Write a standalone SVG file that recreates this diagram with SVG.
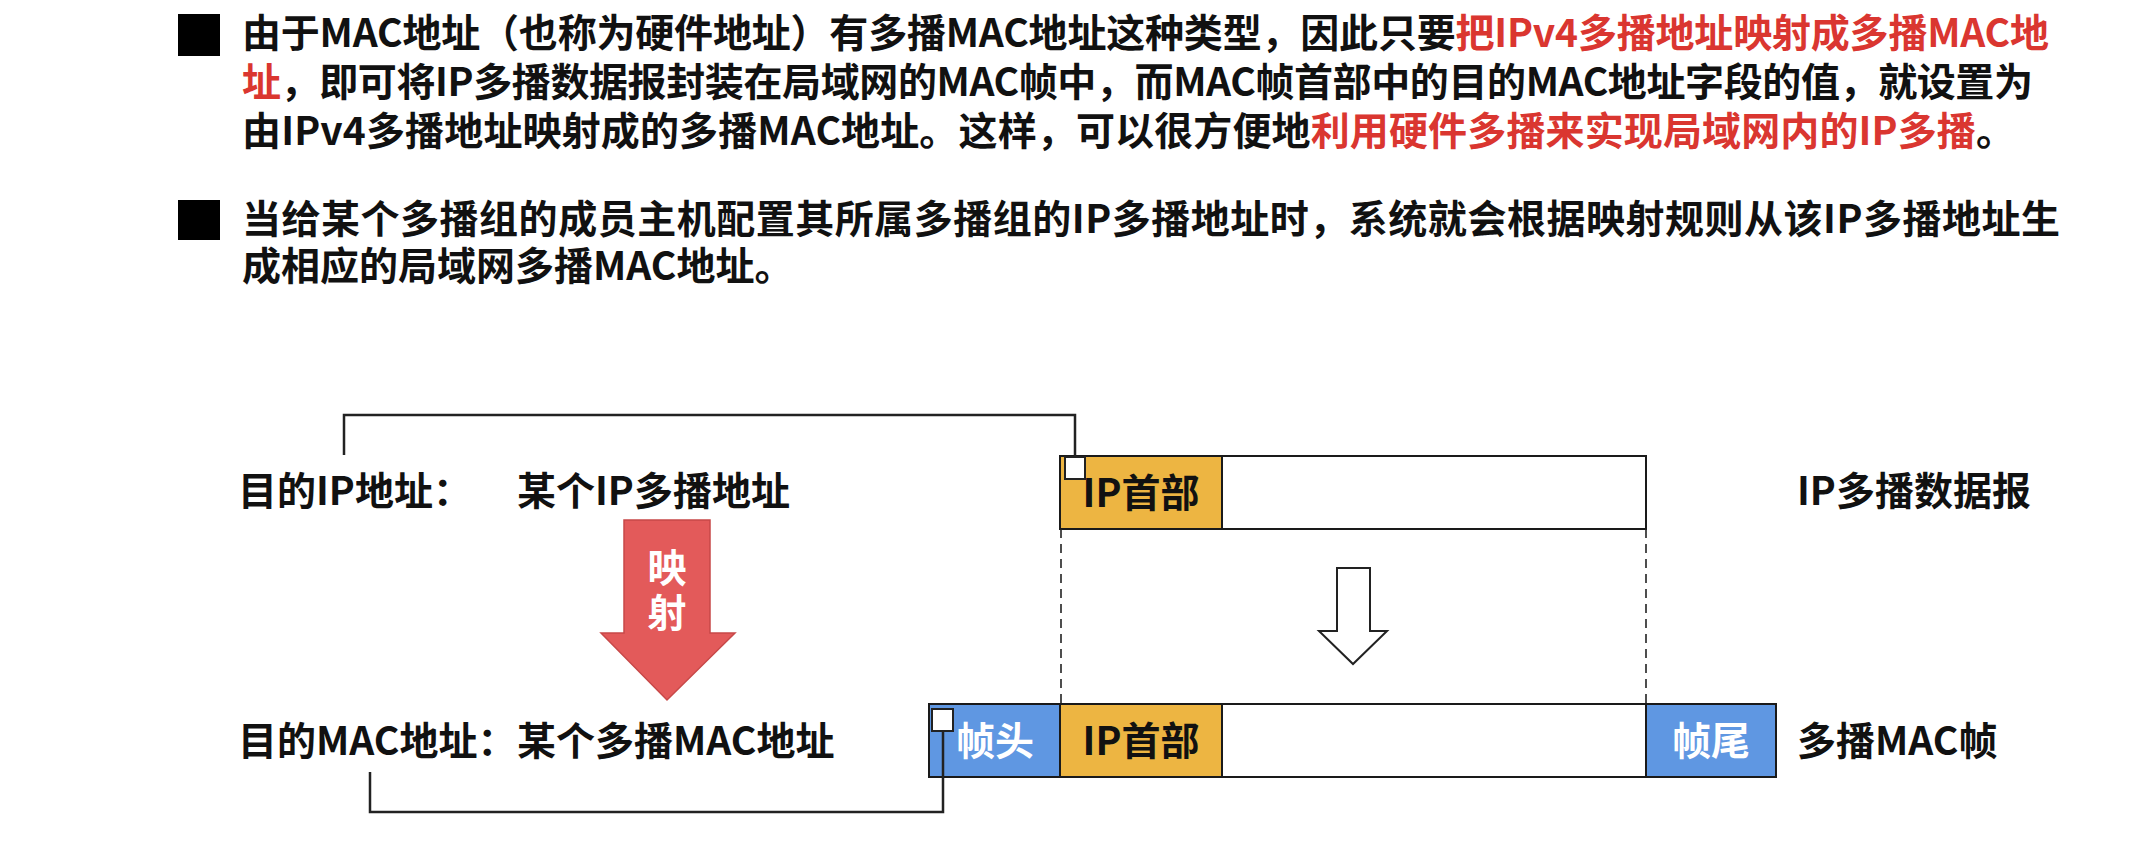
<svg xmlns="http://www.w3.org/2000/svg" width="2133" height="850" viewBox="0 0 2133 850">
  <style>
    .t { font-family: "Noto Sans CJK SC", "Noto Sans", sans-serif; font-weight: 700; font-size: 39px; fill: #111; }
    .red { fill: #DA3630; }
    .wt { fill: #ffffff; }
    .mid { text-anchor: middle; }
    .box { stroke: #1a1a1a; stroke-width: 2; }
    .orange { fill: #EDB542; }
    .blue { fill: #5F97E2; }
    .white { fill: #ffffff; }
    .conn { fill: none; stroke: #222; stroke-width: 2.5; }
    .dash { fill: none; stroke: #222; stroke-width: 1.6; stroke-dasharray: 9 6; }
    .sq { fill: #ffffff; stroke: #222; stroke-width: 2; }
  </style>
  <rect width="2133" height="850" fill="#ffffff"/>

  <g id="bullet1">
    <rect x="178" y="14" width="42" height="42" fill="#000"/>
    <text class="t" x="242" y="47" textLength="1807">由于MAC地址（也称为硬件地址）有多播MAC地址这种类型，因此只要<tspan class="red">把IPv4多播地址映射成多播MAC地</tspan></text>
    <text class="t" x="242" y="96" textLength="1791"><tspan class="red">址</tspan>，即可将IP多播数据报封装在局域网的MAC帧中，而MAC帧首部中的目的MAC地址字段的值，就设置为</text>
    <text class="t" x="242" y="145" textLength="1773">由IPv4多播地址映射成的多播MAC地址。这样，可以很方便地<tspan class="red">利用硬件多播来实现局域网内的IP多播</tspan>。</text>
  </g>

  <g id="bullet2">
    <rect x="178" y="200" width="42" height="40" fill="#000"/>
    <text class="t" x="242" y="233" textLength="1818">当给某个多播组的成员主机配置其所属多播组的IP多播地址时，系统就会根据映射规则从该IP多播地址生</text>
    <text class="t" x="242" y="280">成相应的局域网多播MAC地址。</text>
  </g>

  <g id="labels">
    <text class="t" x="238" y="505">目的IP地址：</text>
    <text class="t" x="517" y="505">某个IP多播地址</text>
    <text class="t" x="238" y="755">目的MAC地址：</text>
    <text class="t" x="517" y="755">某个多播MAC地址</text>
    <text class="t" x="1797" y="505">IP多播数据报</text>
    <text class="t" x="1797" y="755">多播MAC帧</text>
  </g>

  <g id="ip-datagram">
    <rect class="box orange" x="1060" y="456" width="162" height="73"/>
    <rect class="box white" x="1222" y="456" width="424" height="73"/>
    <text class="t mid" x="1141" y="507">IP首部</text>
  </g>

  <g id="mac-frame">
    <rect class="box blue" x="929" y="704" width="131" height="73"/>
    <rect class="box orange" x="1060" y="704" width="162" height="73"/>
    <rect class="box white" x="1222" y="704" width="424" height="73"/>
    <rect class="box blue" x="1646" y="704" width="130" height="73"/>
    <text class="t mid wt" x="995" y="755">帧头</text>
    <text class="t mid" x="1141" y="755">IP首部</text>
    <text class="t mid wt" x="1711" y="755">帧尾</text>
  </g>

  <g id="map-arrow">
    <polygon points="624,520 710,520 710,633 735,633 667,700 601,633 624,633" fill="#E35A5A" stroke="#C84848" stroke-width="1.5"/>
    <text class="t mid wt" x="667" y="582">映</text>
    <text class="t mid wt" x="667" y="627">射</text>
  </g>

  <g id="encap-arrow">
    <polygon points="1337,568 1370,568 1370,631 1387,631 1353,664 1319,631 1337,631" fill="#ffffff" stroke="#222" stroke-width="2"/>
  </g>

  <g id="connectors">
    <path class="conn" d="M344,455 V415 H1075 V457"/>
    <path class="conn" d="M370,772 V812 H943 V731"/>
    <path class="dash" d="M1061,529 V704"/>
    <path class="dash" d="M1646,529 V704"/>
    <rect class="sq" x="1065" y="457" width="20" height="22"/>
    <rect class="sq" x="932" y="709" width="21" height="22"/>
  </g>
</svg>
